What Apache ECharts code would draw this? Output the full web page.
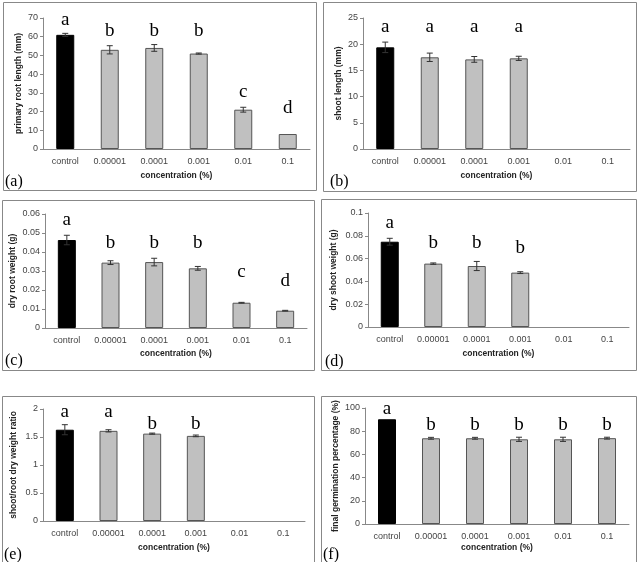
<!DOCTYPE html>
<html>
<head>
<meta charset="utf-8">
<script src="https://cdn.jsdelivr.net/npm/echarts@6/dist/echarts.min.js"></script>
<style>
  html, body { margin: 0; padding: 0; background: #fff; }
  #chart { width: 640px; height: 562px; }
</style>
</head>
<body>
<div id="chart"></div>
<script>
  // categories shared by all six panels
  const categories = ['control', '0.00001', '0.0001', '0.001', '0.01', '0.1']

  // (a) primary root length
  const rootLength = [61, 53, 54, 51, 21, 8]
  const rootLengthErr = [0.8, 2.2, 1.8, 0.3, 1.3, 0]
  const rootLengthLetters = ['a', 'b', 'b', 'b', 'c', 'd']
  const rootLengthLetterY = [69, 63, 63, 63, 30.5, 22]

  // (b) shoot length
  const shootLength = [19.4, 17.5, 17.1, 17.3, null, null]
  const shootLengthErr = [1.0, 0.8, 0.55, 0.4, 0, 0]
  const shootLengthLetters = ['a', 'a', 'a', 'a', '', '']
  const shootLengthLetterY = [23.3, 23.3, 23.3, 23.3, null, null]

  // (c) dry root weight
  const rootWeight = [0.0463, 0.0344, 0.0347, 0.0314, 0.0133, 0.0091]
  const rootWeightErr = [0.0025, 0.001, 0.002, 0.001, 0.0002, 0.0002]
  const rootWeightLetters = ['a', 'b', 'b', 'b', 'c', 'd']
  const rootWeightLetterY = [0.0568, 0.0446, 0.0446, 0.0446, 0.0296, 0.0249]

  // (d) dry shoot weight
  const shootWeight = [0.0748, 0.0556, 0.0535, 0.0477, null, null]
  const shootWeightErr = [0.003, 0.0006, 0.004, 0.0008, 0, 0]
  const shootWeightLetters = ['a', 'b', 'b', 'b', '', '']
  const shootWeightLetterY = [0.091, 0.0734, 0.0734, 0.069, null, null]

  // (e) shoot/root dry weight ratio
  const weightRatio = [1.63, 1.61, 1.56, 1.52, null, null]
  const weightRatioErr = [0.09, 0.02, 0.01, 0.015, 0, 0]
  const weightRatioLetters = ['a', 'a', 'b', 'b', '', '']
  const weightRatioLetterY = [1.94, 1.94, 1.73, 1.73, null, null]

  // (f) final germination percentage
  const germination = [90.3, 73.9, 73.9, 73, 73, 74]
  const germinationErr = [0, 0.8, 0.8, 1.8, 1.8, 0.8]
  const germinationLetters = ['a', 'b', 'b', 'b', 'b', 'b']
  const germinationLetterY = [98.9, 85.3, 85.3, 85.3, 85.3, 85.3]

  const sans = 'Liberation Sans, Arial, sans-serif'
  const serif = 'Liberation Serif, Times New Roman, serif'

  const panels = [
    {tag: '(a)', yName: 'primary root length (mm)', values: rootLength, err: rootLengthErr,
      letters: rootLengthLetters, letterY: rootLengthLetterY, max: 70, interval: 10,
      grid: {left: 43, top: 18, width: 267, height: 131}, yGap: 20, xGap: 22,
      box: [3, 2, 313, 188], tagPos: [5, 182]},
    {tag: '(b)', yName: 'shoot length (mm)', values: shootLength, err: shootLengthErr,
      letters: shootLengthLetters, letterY: shootLengthLetterY, max: 25, interval: 5,
      grid: {left: 363, top: 18, width: 267, height: 131}, yGap: 20, xGap: 22,
      box: [323, 2, 313, 189], tagPos: [330, 182]},
    {tag: '(c)', yName: 'dry root weight (g)', values: rootWeight, err: rootWeightErr,
      letters: rootWeightLetters, letterY: rootWeightLetterY, max: 0.06, interval: 0.01,
      grid: {left: 45, top: 214, width: 262, height: 114}, yGap: 28, xGap: 21,
      box: [2, 200, 312, 170], tagPos: [5, 361]},
    {tag: '(d)', yName: 'dry shoot weight (g)', values: shootWeight, err: shootWeightErr,
      letters: shootWeightLetters, letterY: shootWeightLetterY, max: 0.1, interval: 0.02,
      grid: {left: 368, top: 213, width: 261, height: 114}, yGap: 30, xGap: 22,
      box: [321, 199, 315, 171], tagPos: [325, 362]},
    {tag: '(e)', yName: 'shoot/root dry weight ratio', values: weightRatio, err: weightRatioErr,
      letters: weightRatioLetters, letterY: weightRatioLetterY, max: 2, interval: 0.5,
      grid: {left: 43, top: 409, width: 262, height: 112}, yGap: 25, xGap: 22,
      box: [2, 396, 312, 172], tagPos: [4, 555]},
    {tag: '(f)', yName: 'final germination percentage (%)', values: germination, err: germinationErr,
      letters: germinationLetters, letterY: germinationLetterY, max: 100, interval: 20,
      grid: {left: 365, top: 408, width: 264, height: 116}, yGap: 25, xGap: 19,
      box: [321, 396, 315, 172], tagPos: [323, 555]}
  ]

  const grid = []
  const xAxis = []
  const yAxis = []
  const series = []
  const graphic = []

  panels.forEach(function (p, i) {
    grid.push(p.grid)
    xAxis.push({
      type: 'category',
      gridIndex: i,
      data: categories,
      name: 'concentration (%)',
      nameLocation: 'middle',
      nameGap: p.xGap,
      nameTextStyle: {fontFamily: sans, fontSize: 8.5, fontWeight: 'bold', color: '#222'},
      axisLine: {lineStyle: {color: '#888'}},
      axisTick: {length: 3, lineStyle: {color: '#888'}},
      axisLabel: {fontFamily: sans, fontSize: 9, color: '#444', margin: 8}
    })
    yAxis.push({
      type: 'value',
      gridIndex: i,
      min: 0,
      max: p.max,
      interval: p.interval,
      name: p.yName,
      nameLocation: 'middle',
      nameGap: p.yGap,
      nameTextStyle: {fontFamily: sans, fontSize: 8.5, fontWeight: 'bold', color: '#222'},
      axisLine: {show: true, lineStyle: {color: '#888'}},
      axisTick: {show: true, length: 3, lineStyle: {color: '#888'}},
      axisLabel: {fontFamily: sans, fontSize: 9, color: '#444', margin: 5},
      splitLine: {show: false}
    })
    series.push({
      type: 'bar',
      xAxisIndex: i,
      yAxisIndex: i,
      barWidth: 18,
      data: p.values.map(function (v, k) {
        if (v == null) return '-'
        return {
          value: v,
          itemStyle: k === 0
            ? {color: '#000', borderColor: '#000', borderWidth: 1}
            : {color: '#c0c0c0', borderColor: '#555', borderWidth: 1}
        }
      })
    })
    // error bars
    series.push({
      type: 'custom',
      xAxisIndex: i,
      yAxisIndex: i,
      z: 5,
      data: p.values.map(function (v, k) { return [k, v, p.err[k]] })
        .filter(function (d) { return d[1] != null && d[2] > 0 }),
      renderItem: function (params, api) {
        const x = api.value(0)
        const v = api.value(1)
        const e = api.value(2)
        const top = api.coord([x, v + e])
        const bot = api.coord([x, v - e])
        const style = {stroke: '#333', lineWidth: 1}
        return {
          type: 'group',
          children: [
            {type: 'line', shape: {x1: top[0], y1: top[1], x2: bot[0], y2: bot[1]}, style: style},
            {type: 'line', shape: {x1: top[0] - 3, y1: top[1], x2: top[0] + 3, y2: top[1]}, style: style},
            {type: 'line', shape: {x1: bot[0] - 3, y1: bot[1], x2: bot[0] + 3, y2: bot[1]}, style: style}
          ]
        }
      }
    })
    // significance letters
    series.push({
      type: 'custom',
      xAxisIndex: i,
      yAxisIndex: i,
      z: 6,
      data: p.letterY.map(function (y, k) { return [k, y, k] })
        .filter(function (d) { return d[1] != null }),
      renderItem: function (params, api) {
        const pt = api.coord([api.value(0), api.value(1)])
        return {
          type: 'text',
          x: pt[0],
          y: pt[1],
          style: {
            text: p.letters[api.value(2)],
            fontFamily: serif,
            fontSize: 19,
            fill: '#000',
            align: 'center',
            verticalAlign: 'middle'
          }
        }
      }
    })
    graphic.push({
      type: 'rect',
      shape: {x: p.box[0] + 0.5, y: p.box[1] + 0.5, width: p.box[2], height: p.box[3]},
      style: {fill: 'none', stroke: '#888', lineWidth: 1},
      silent: true
    })
    graphic.push({
      type: 'text',
      x: p.tagPos[0],
      y: p.tagPos[1],
      style: {text: p.tag, fontFamily: serif, fontSize: 16, fill: '#000', verticalAlign: 'middle'},
      silent: true
    })
  })

  const myChart = echarts.init(document.getElementById('chart'))
  myChart.setOption({
    animation: false,
    grid: grid,
    xAxis: xAxis,
    yAxis: yAxis,
    series: series,
    graphic: graphic
  })
</script>
</body>
</html>
